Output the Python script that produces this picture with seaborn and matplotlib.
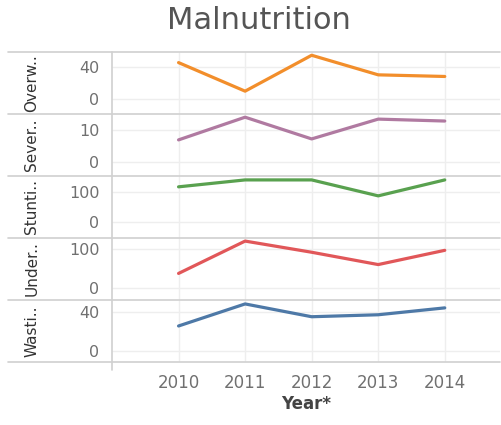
import pandas as pd
import matplotlib.pyplot as plt
from matplotlib.lines import Line2D
import seaborn as sns

# data
years = [2010, 2011, 2012, 2013, 2014]
measures = ["Overw..", "Sever..", "Stunti..", "Under..", "Wasti.."]
overweight = [45, 10, 54, 30, 28]
severe = [6.9, 14.0, 7.2, 13.4, 12.8]
stunting = [117, 140, 140, 87, 140]
underweight = [37, 121, 92, 60, 97]
wasting = [25.6, 48, 35, 37, 44]

colors = ["#f28e2b", "#b07aa1", "#59a14f", "#e15759", "#4e79a7"]
y_ticks = [[0, 40], [0, 10], [0, 100], [0, 100], [0, 40]]
y_limits = [(-18, 58), (-4.4, 15), (-53, 153), (-32, 129), (-11, 52)]

rows = []
for name, vals in zip(measures, [overweight, severe, stunting, underweight, wasting]):
    for yr, v in zip(years, vals):
        rows.append({"Measure": name, "Year": yr, "Value": v})
df = pd.DataFrame(rows)

sns.set_style("white")
plt.rcParams["font.family"] = ["DejaVu Sans"]

W, H = 502, 425
fig, axes = plt.subplots(5, 1, figsize=(W / 100, H / 100), dpi=100, sharex=True)
top_px, bottom_px, left_px, right_px = 52, 362, 112, 500
plt.subplots_adjust(left=left_px / W, right=right_px / W,
                    top=1 - top_px / H, bottom=1 - bottom_px / H, hspace=0)

grid_c = "#eeeeee"
for i, ax in enumerate(axes):
    sub = df[df["Measure"] == measures[i]]
    sns.lineplot(data=sub, x="Year", y="Value", color=colors[i],
                 linewidth=2.3, ax=ax)
    ax.set_ylim(*y_limits[i])
    ax.set_xlim(2009, 2014.83)
    ax.set_yticks(y_ticks[i])
    ax.set_xticks(years)
    for t in y_ticks[i]:
        ax.axhline(t, color=grid_c, linewidth=1, zorder=0)
    for yr in years:
        ax.axvline(yr, color=grid_c, linewidth=1, zorder=0)
    for s in ax.spines.values():
        s.set_visible(False)
    ax.tick_params(axis="y", length=0, pad=9, labelsize=11.5, labelcolor="#707070")
    ax.tick_params(axis="x", length=0, pad=9, labelsize=12, labelcolor="#707070")
    ax.set_ylabel("")
    ax.set_xlabel("")
    # row label on the left
    y_mid = 1 - (top_px + (i + 0.5) * (bottom_px - top_px) / 5) / H
    fig.text(32 / W, y_mid, measures[i], rotation=90, ha="center", va="center",
             fontsize=11, color="#333333")

axes[-1].set_xlabel("Year*", fontsize=12, fontweight="bold", color="#444444", labelpad=2)

# separator lines and left rule
for i in range(6):
    yp = top_px + i * (bottom_px - top_px) / 5
    fig.add_artist(Line2D([8 / W, right_px / W], [1 - yp / H, 1 - yp / H],
                          transform=fig.transFigure, color="#d0d0d0", linewidth=1.2))
fig.add_artist(Line2D([left_px / W, left_px / W], [1 - top_px / H, 1 - 370 / H],
                      transform=fig.transFigure, color="#d0d0d0", linewidth=1.2))

fig.suptitle("Malnutrition", x=0.515, y=0.985, fontsize=22, color="#555555")

plt.savefig("out.png", dpi=100)
